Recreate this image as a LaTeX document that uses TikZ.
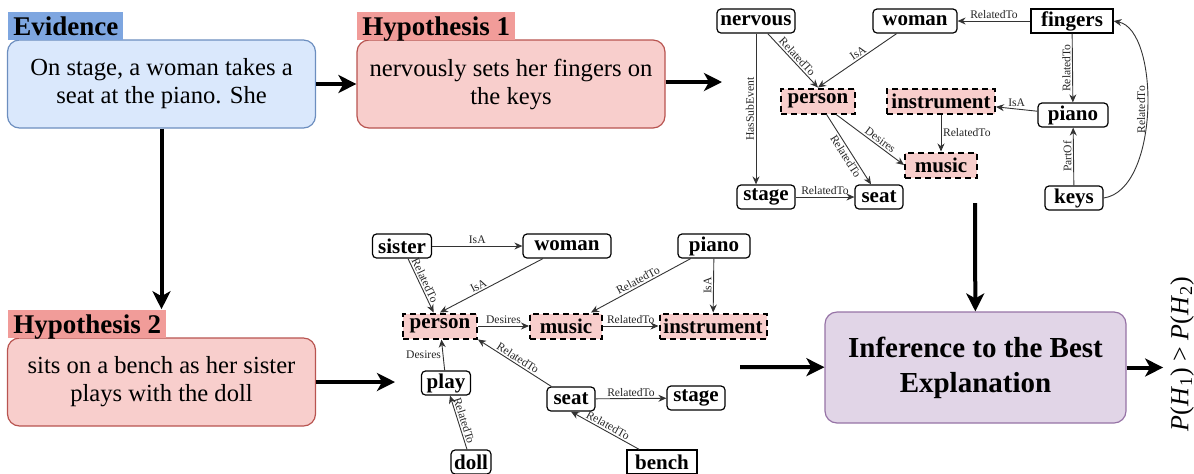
\documentclass[tikz,border=0pt]{standalone}
\usepackage{fontspec}
\setmainfont{Liberation Serif}
\usetikzlibrary{arrows.meta}

\definecolor{evtag}{HTML}{7EA6E0}
\definecolor{evfill}{HTML}{DAE8FC}
\definecolor{evline}{HTML}{6C8EBF}
\definecolor{hyptag}{HTML}{F19C99}
\definecolor{hypfill}{HTML}{F8CECC}
\definecolor{hypline}{HTML}{B85450}
\definecolor{ibefill}{HTML}{E1D5E7}
\definecolor{ibeline}{HTML}{9673A6}
\definecolor{sharedfill}{HTML}{F8CECC}

\begin{document}
\begin{tikzpicture}[x=0.5pt,y=-0.5pt]
			\tikzstyle{textbox}=[rounded corners=6pt, line width=0.6pt, minimum width=154pt, minimum height=44pt, align=center, font=\fontsize{12.3}{14}\selectfont]
			\tikzstyle{tag}=[anchor=south west, inner xsep=2.5pt, inner ysep=2pt, text height=10pt, text depth=0pt, font=\fontsize{13.5}{14}\selectfont\bfseries]
			\tikzstyle{concept}=[draw, rounded corners=2pt, line width=0.6pt, inner xsep=1.5pt, inner ysep=0pt, minimum height=12pt, font=\fontsize{10.5}{12}\selectfont\bfseries]
			\tikzstyle{boxconcept}=[concept, sharp corners]
			\tikzstyle{shared}=[concept, sharp corners, fill=sharedfill, line width=1pt, dash pattern=on 3pt off 2pt, minimum height=12.5pt]
			\tikzstyle{rel}=[-{Stealth[length=4pt,width=3.5pt]}, line width=0.45pt, black!80]
			\tikzstyle{rellabel}=[font=\fontsize{5.8}{6}\selectfont, inner sep=0.8pt, text=black!85]
			\tikzstyle{flow}=[-{Stealth[length=9pt,width=9pt,inset=2.5pt]}, line width=2pt]
			
			\useasboundingbox (0,0) rectangle (1194,473);
			
			\node[textbox, draw=evline, fill=evfill] (evidence) at (161.5,84) {On stage, a woman takes a\\seat at the piano. She};
			\node[textbox, draw=hypline, fill=hypfill] (hyp1) at (511,84) {nervously sets her fingers on\\the keys};
			\node[textbox, draw=hypline, fill=hypfill] (hyp2) at (161.5,382) {sits on a bench as her sister\\plays with the doll};
			\node[textbox, draw=ibeline, fill=ibefill, minimum width=150.5pt, minimum height=55.5pt, font=\fontsize{14.5}{17.5}\selectfont\bfseries] (ibe) at (975.5,367.5) {Inference to the Best\\Explanation};
			\node[tag, fill=evtag] (evidencetag) at (8,40) {Evidence};
			\node[tag, fill=hyptag] (hyp1tag) at (357,40) {Hypothesis 1};
			\node[tag, fill=hyptag] (hyp2tag) at (8,338) {Hypothesis 2};
			\node[rotate=90, font=\fontsize{13}{14}\selectfont] (result) at (1182,354) {\textit{P}(\textit{H}\textsubscript{1}) > \textit{P}(\textit{H}\textsubscript{2})};
			
			\node[concept, minimum width=39pt] (nervous) at (756,21) {nervous};
			\node[concept, minimum width=42pt] (woman1) at (915,21) {woman};
			\node[boxconcept, minimum width=41pt] (fingers) at (1072,21) {fingers};
			\node[shared, minimum width=37pt] (person1) at (818,101) {person};
			\node[shared, minimum width=54pt] (instr1) at (941,101) {instrument};
			\node[concept, minimum width=35pt] (piano1) at (1073,115) {piano};
			\node[shared, minimum width=36pt] (music1) at (941,165) {music};
			\node[concept, minimum width=29pt] (stage1) at (766,197) {stage};
			\node[concept, minimum width=24pt] (seat1) at (879,197) {seat};
			\node[concept, minimum width=29pt] (keys) at (1074,198) {keys};
			
			\draw[rel] (fingers) -- node[rellabel, above]{RelatedTo} (woman1);
			\draw[rel] (fingers) -- node[rellabel, rotate=90, anchor=south]{RelatedTo} (piano1);
			\draw[rel] (keys.east) .. controls (1160,190) and (1160,30) .. node[rellabel, rotate=90, anchor=south]{RelatedTo} (fingers.east);
			\draw[rel] (keys) -- node[rellabel, rotate=90, anchor=south]{PartOf} (piano1);
			\draw[rel] (piano1) -- node[rellabel, above]{IsA} (instr1);
			\draw[rel] (instr1) -- node[rellabel, right]{RelatedTo} (music1);
			\draw[rel] (nervous) -- node[rellabel, sloped, above]{RelatedTo} (person1.north);
			\draw[rel] (woman1) -- node[rellabel, sloped, above, pos=0.45]{IsA} (person1.north);
			\draw[rel] (person1) -- node[rellabel, sloped, below, pos=0.55]{RelatedTo} (seat1);
			\draw[rel] (person1) -- node[rellabel, sloped, above, pos=0.6]{Desires} (music1.west);
			\draw[rel] (nervous.south) -- node[rellabel, rotate=90, anchor=south]{HasSubEvent} (nervous.south |- stage1.north);
			\draw[rel] (stage1) -- node[rellabel, above]{RelatedTo} (seat1);
			
			\node[concept, minimum width=29.5pt] (sister) at (402,246) {sister};
			\node[concept, minimum width=44pt] (woman2) at (567,246) {woman};
			\node[concept, minimum width=36pt] (piano2) at (714,246) {piano};
			\node[shared, minimum width=37pt] (person2) at (440,326) {person};
			\node[shared, minimum width=36pt] (music2) at (566,326) {music};
			\node[shared, minimum width=53.5pt] (instr2) at (713,326) {instrument};
			\node[concept, minimum width=24.5pt] (play) at (446,383) {play};
			\node[concept, minimum width=24pt] (seat2) at (571,399) {seat};
			\node[concept, minimum width=29pt] (stage2) at (696,398) {stage};
			\node[concept, minimum width=19pt] (doll) at (471,462) {doll};
			\node[boxconcept, minimum width=35pt] (bench) at (662,462) {bench};
			
			\draw[rel] (sister) -- node[rellabel, above]{IsA} (woman2);
			\draw[rel] (sister) -- node[rellabel, sloped, above, pos=0.45]{RelatedTo} (person2);
			\draw[rel] (woman2) -- node[rellabel, sloped, above, pos=0.6]{IsA} (person2.north);
			\draw[rel] (person2) -- node[rellabel, above]{Desires} (music2);
			\draw[rel] (piano2) -- node[rellabel, sloped, above]{RelatedTo} (music2);
			\draw[rel] (piano2) -- node[rellabel, rotate=90, anchor=south]{IsA} (instr2);
			\draw[rel] (music2) -- node[rellabel, above]{RelatedTo} (instr2);
			\draw[rel] (play) -- node[rellabel, left]{Desires} (person2);
			\draw[rel] (doll) -- node[rellabel, sloped, above]{RelatedTo} (play);
			\draw[rel] (seat2) -- node[rellabel, sloped, above]{RelatedTo} (person2.south east);
			\draw[rel] (seat2) -- node[rellabel, above]{RelatedTo} (stage2);
			\draw[rel] (bench) -- node[rellabel, sloped, above]{RelatedTo} (seat2.south);
			
			\coordinate (graph1in) at (722,82);
			\coordinate (graph1out) at (975,203);
			\coordinate (graph2in) at (395,382);
			\coordinate (graph2out) at (740,367);
			\draw[flow] (evidence) -- (hyp1);
			\draw[flow] (hyp1.east |- graph1in) -- (graph1in);
			\draw[flow] (evidence) -- (evidence.south |- hyp2tag.north);
			\draw[flow] (hyp2) -- (graph2in);
			\draw[flow] (graph1out) -- (ibe);
			\draw[flow] (graph2out) -- (ibe);
			\draw[flow] (ibe) -- (ibe.east -| result.north);
\end{tikzpicture}
\end{document}
